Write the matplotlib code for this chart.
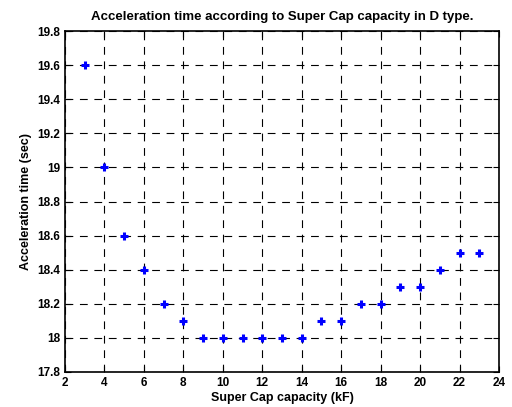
import numpy as np
import matplotlib.pyplot as plt

plt.rcParams['font.family'] = ['Liberation Sans', 'DejaVu Sans']
plt.rcParams['font.weight'] = 'bold'

capacity = [3, 4, 5, 6, 7, 8, 9, 10, 11, 12, 13, 14, 15, 16, 17, 18, 19, 20, 21, 22, 23]
accel_time = [19.6, 19.0, 18.6, 18.4, 18.2, 18.1, 18.0, 18.0, 18.0, 18.0, 18.0, 18.0,
              18.1, 18.1, 18.2, 18.2, 18.3, 18.3, 18.4, 18.5, 18.5]

fig = plt.figure(figsize=(5.12, 4.07), dpi=100)
ax = fig.add_axes([65/512, 1 - 372/407, (499-65)/512, (372-31)/407])

ax.plot(capacity, accel_time, linestyle='none', marker='+', color='blue',
        markersize=5.5, markeredgewidth=2.2)

ax.set_xlim(2, 24)
ax.set_ylim(17.8, 19.8)
ax.set_xticks(np.arange(2, 25, 2))
ax.set_yticks(np.arange(17.8, 19.81, 0.2))
ax.set_yticklabels(['17.8', '18', '18.2', '18.4', '18.6', '18.8', '19',
                    '19.2', '19.4', '19.6', '19.8'])
ax.grid(True, color='black', linestyle=(0, (7, 6)), linewidth=0.8)
ax.tick_params(direction='in', top=True, right=True, labelsize=8.5, length=4)
for lab in ax.get_xticklabels() + ax.get_yticklabels():
    lab.set_fontweight('bold')
for s in ax.spines.values():
    s.set_linewidth(1.2)

ax.set_xlabel('Super Cap capacity (kF)', fontsize=9, fontweight='bold', labelpad=2)
ax.set_ylabel('Acceleration time (sec)', fontsize=9, fontweight='bold')
ax.set_title('Acceleration time according to Super Cap capacity in D type.',
             fontsize=9.5, fontweight='bold', pad=8)

fig.savefig('out.png', dpi=100)
